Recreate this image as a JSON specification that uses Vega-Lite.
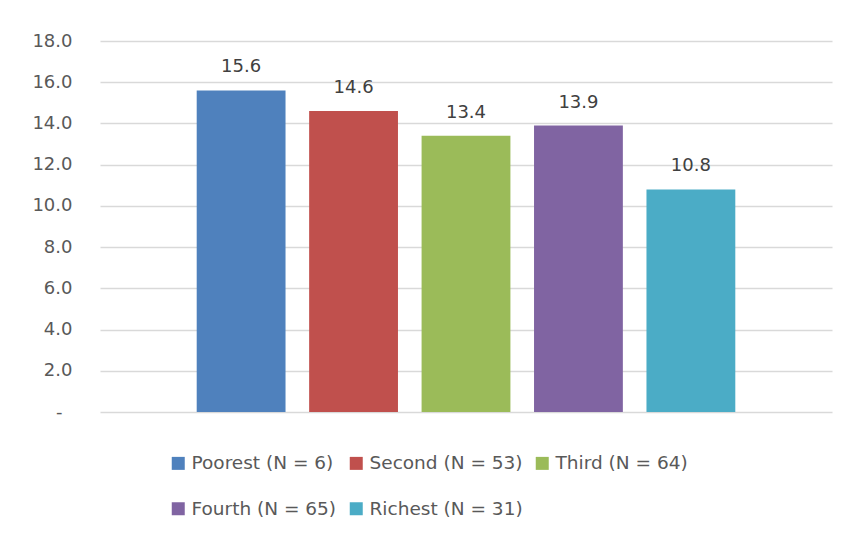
{
  "$schema": "https://vega.github.io/schema/vega-lite/v6.json",
  "autosize": "none",
  "width": 732,
  "height": 371,
  "padding": {"left": 100, "top": 41, "right": 16, "bottom": 123},
  "background": "white",
  "config": {
    "view": {"stroke": null},
    "font": "DejaVu Sans"
  },
  "data": {
    "values": [
      {"group": "Poorest (N = 6)", "value": 15.6},
      {"group": "Second (N = 53)", "value": 14.6},
      {"group": "Third (N = 64)", "value": 13.4},
      {"group": "Fourth (N = 65)", "value": 13.9},
      {"group": "Richest (N = 31)", "value": 10.8}
    ]
  },
  "encoding": {
    "x": {
      "field": "group",
      "type": "nominal",
      "sort": null,
      "scale": {"paddingInner": 0.21, "paddingOuter": 0.86},
      "axis": null
    },
    "y": {
      "field": "value",
      "type": "quantitative",
      "scale": {"domain": [0, 18], "nice": false, "zero": true},
      "axis": {
        "title": null,
        "values": [0, 2, 4, 6, 8, 10, 12, 14, 16, 18],
        "labelExpr": "datum.value == 0 ? '-' : format(datum.value, '.1f')",
        "domain": false,
        "ticks": false,
        "labelPadding": {"condition": {"test": "datum.value == 0", "value": 38}, "value": 28},
        "labelFont": "DejaVu Sans",
        "labelFontSize": 18,
        "labelColor": "#595959",
        "gridColor": "#d9d9d9",
        "gridWidth": 1.3
      }
    }
  },
  "layer": [
    {
      "mark": {"type": "bar"},
      "encoding": {
        "color": {
          "field": "group",
          "type": "nominal",
          "scale": {
            "domain": ["Poorest (N = 6)", "Second (N = 53)", "Third (N = 64)", "Fourth (N = 65)", "Richest (N = 31)"],
            "range": ["#4F81BD", "#C0504D", "#9BBB59", "#8064A2", "#4BACC6"]
          },
          "legend": {
            "title": null,
            "orient": "none",
            "legendX": 69,
            "legendY": 413,
            "columns": 3,
            "direction": "horizontal",
            "symbolType": "square",
            "symbolSize": 169,
            "symbolStrokeWidth": 0,
            "labelFont": "DejaVu Sans",
            "labelFontSize": 18.5,
            "labelColor": "#595959",
            "labelOffset": 4,
            "rowPadding": 26.5,
            "columnPadding": 10,
            "labelLimit": 300
          }
        }
      }
    },
    {
      "mark": {"type": "text", "dy": -18, "baseline": "alphabetic", "font": "DejaVu Sans", "fontSize": 18, "color": "#404040"},
      "encoding": {
        "text": {"field": "value", "type": "quantitative", "format": ".1f"}
      }
    }
  ]
}
